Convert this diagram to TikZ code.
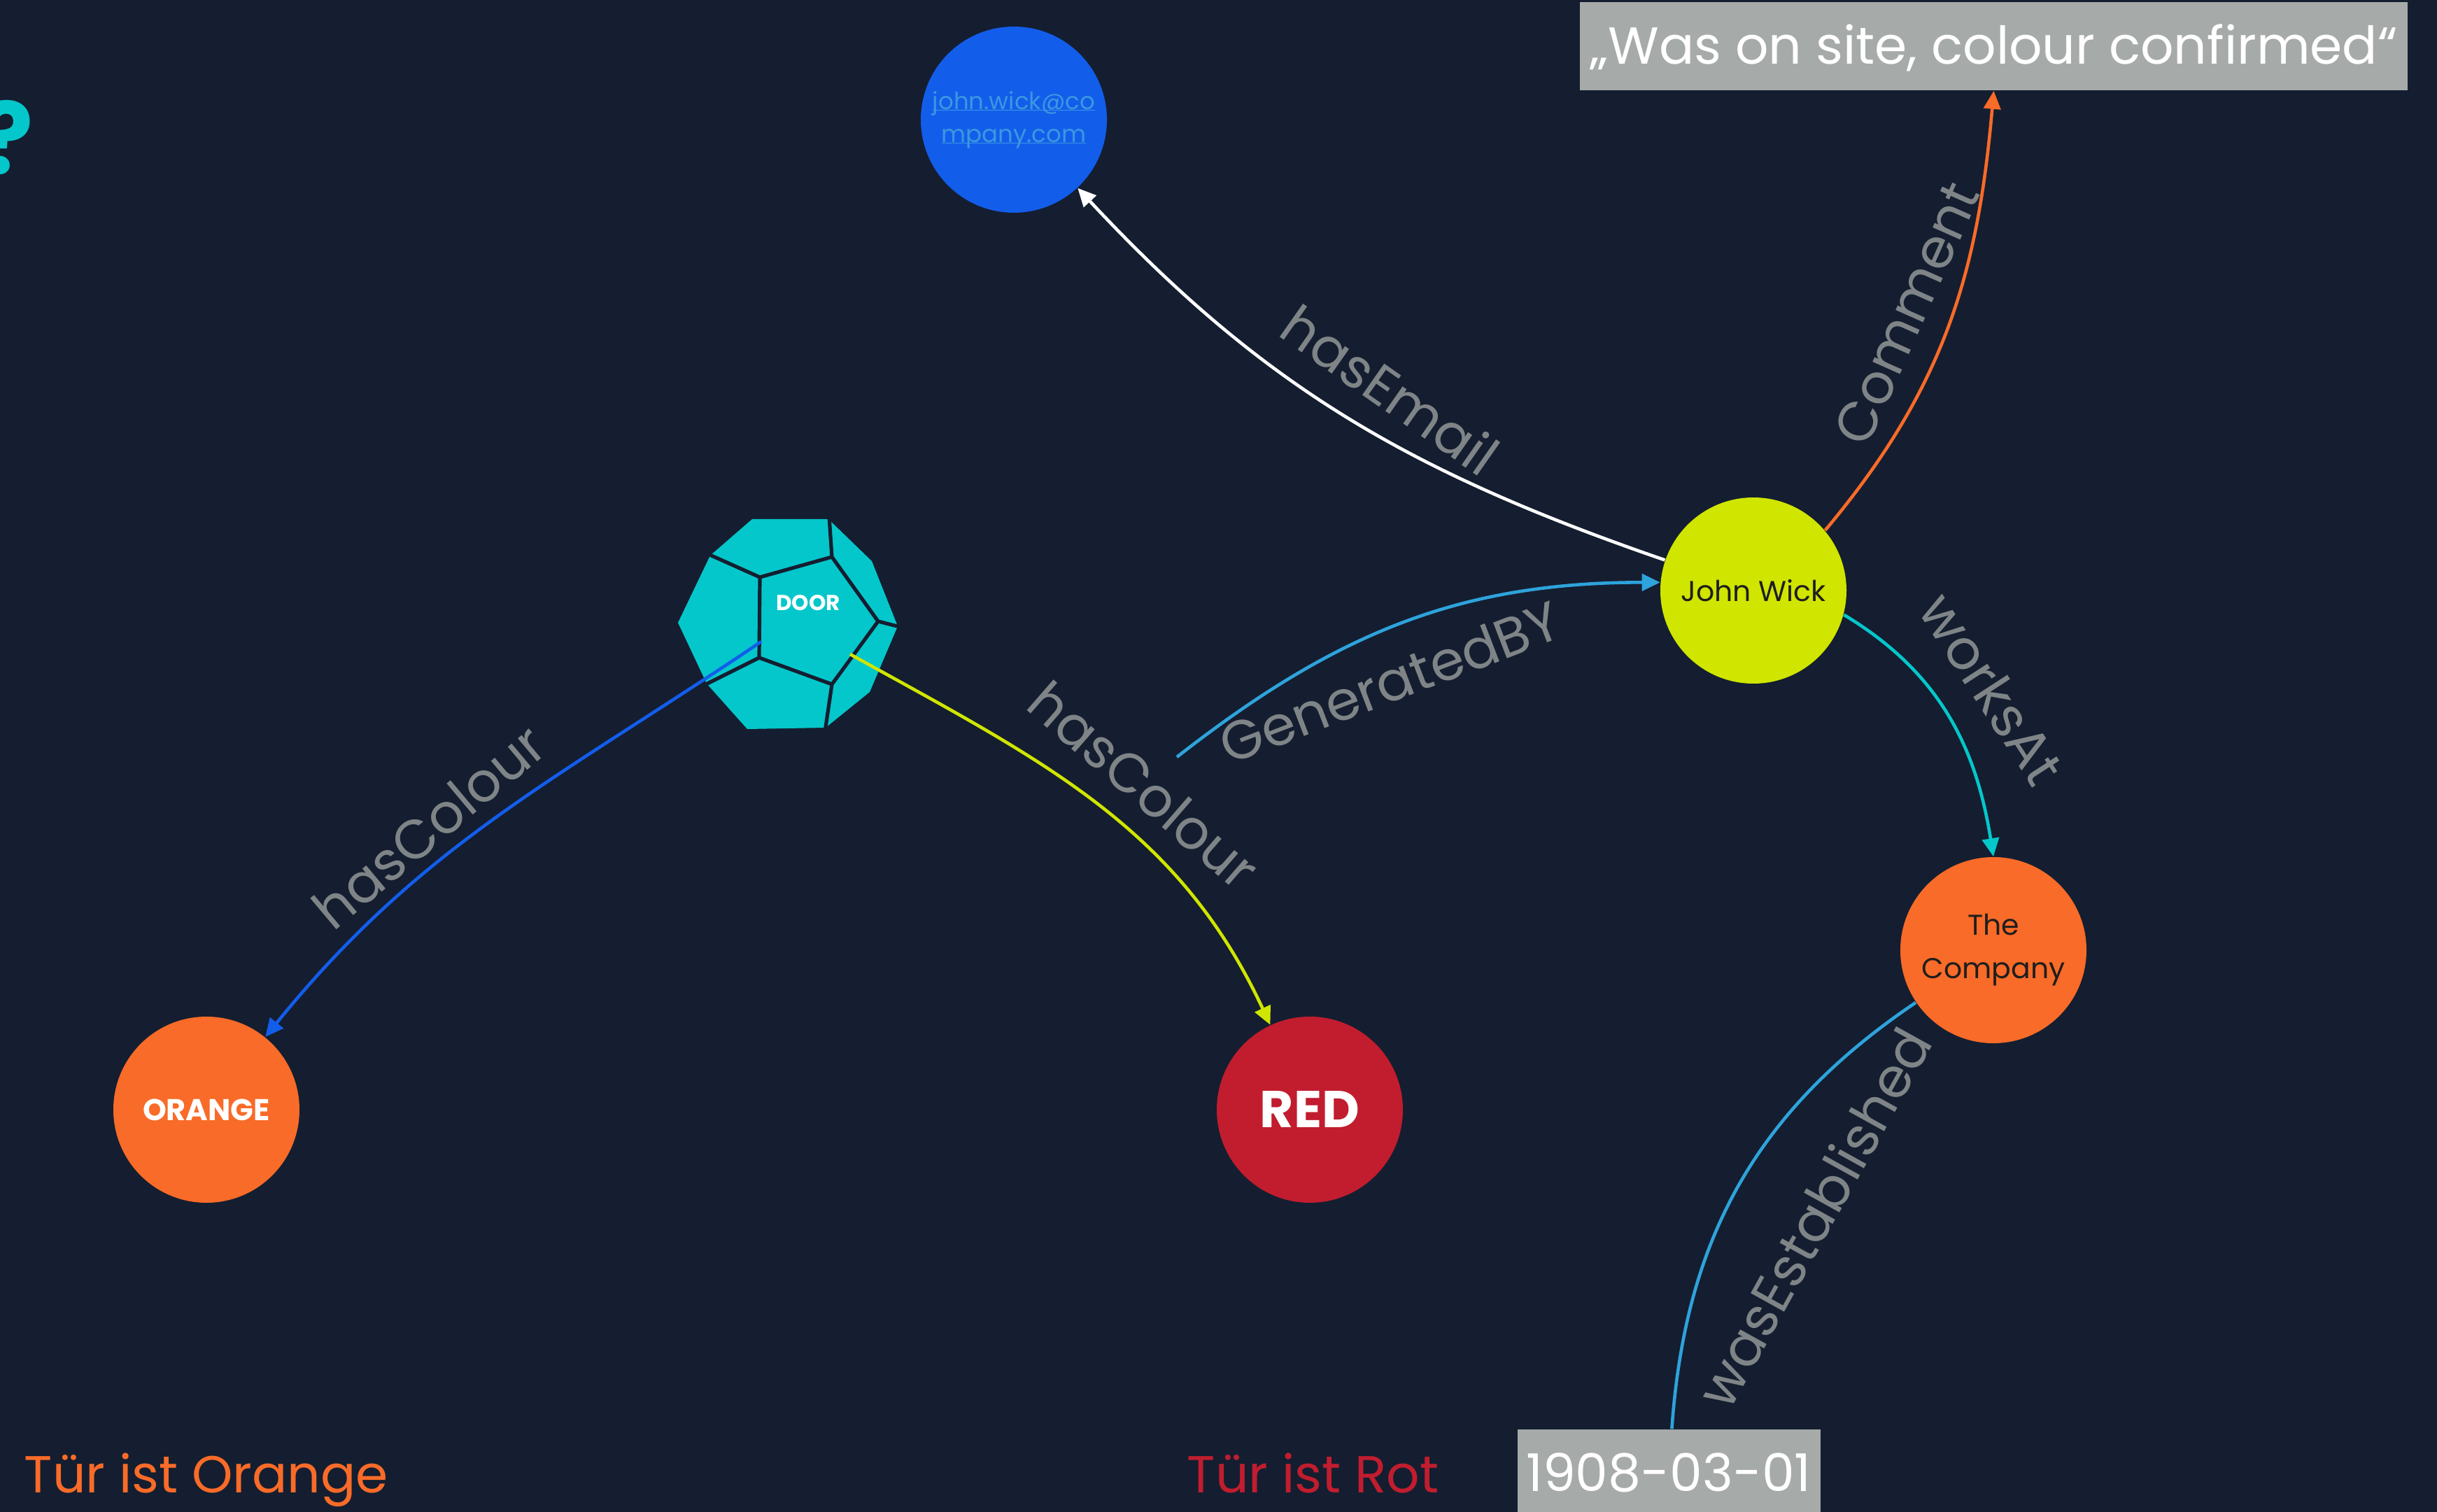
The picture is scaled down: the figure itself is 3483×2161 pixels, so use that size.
\documentclass[tikz,border=0pt]{standalone}
\usepackage{fontspec}
\setmainfont{Poppins}
\usetikzlibrary{arrows.meta}
\definecolor{bg}{HTML}{141E30}
\definecolor{cyanc}{HTML}{04C7CB}
\definecolor{emailblue}{HTML}{135DEB}
\definecolor{emailtext}{HTML}{3A98E0}
\definecolor{lightblue}{HTML}{2EA3DC}
\definecolor{jwyellow}{HTML}{D0E500}
\definecolor{orangec}{HTML}{F96B28}
\definecolor{redc}{HTML}{C11D2E}
\definecolor{boxgrey}{HTML}{A6AAA9}
\definecolor{lblgrey}{HTML}{7F8487}
\definecolor{darktext}{HTML}{1E1E1E}
\newcommand\myul[1]{\setbox0\hbox{#1}\rlap{\rule[-0.6pt]{\wd0}{0.4pt}}\box0}
\begin{document}
\begin{tikzpicture}[x=0.25pt,y=0.25pt,
  circ/.style={circle, minimum size=66.5pt, inner sep=0pt},
  edgeline/.style={line width=1.15pt},
  arr/.style={-{Triangle[length=6.5pt,width=6pt]}},
  lbl/.style={text=lblgrey, inner sep=0pt, font=\fontsize{19.6}{23}\selectfont},
  bigtxt/.style={font=\fontsize{18.6}{22}\selectfont},
  greybox/.style={fill=boxgrey, inner sep=0pt, text=white, bigtxt, text height=13pt, text depth=0pt}]
\fill[bg] (0,0) rectangle (3483,-2161);
\useasboundingbox (0,0) rectangle (3483,-2161);

% question mark
\node[anchor=base east, inner sep=0pt, text=cyanc, font=\bfseries\fontsize{35.5}{40}\selectfont] (qmark) at (49,-249) {?};

% door (dodecahedron)
\fill[cyanc] (1075,-742) -- (1184,-742) -- (1246,-802) -- (1283,-895) -- (1243,-989) -- (1180,-1040) -- (1068,-1042) -- (1010,-977) -- (969,-890) -- (1015,-794) -- cycle;
\draw[bg, line width=1.3pt, line join=miter]
  (1086,-825) -- (1189,-796) -- (1255,-888) -- (1189,-978) -- (1085,-940) -- cycle
  (1086,-825) -- (1010,-791)
  (1189,-796) -- (1185,-738)
  (1255,-888) -- (1290,-897)
  (1189,-978) -- (1179,-1046)
  (1085,-940) -- (1005,-980);
\node[text=white, inner sep=0pt, font=\bfseries\fontsize{7.75}{9}\selectfont] (door) at (1155,-862) {DOOR};
\coordinate (doorA) at (1088,-917);
\coordinate (doorB) at (1215,-935);
\coordinate (genStart) at (1682,-1082);

% nodes
\node[circ, fill=emailblue, text=emailtext, align=center, font=\fontsize{8.5}{11.75}\selectfont] (email) at (1449,-171) {\myul{john.wick@co}\\\myul{mpany.com}};
\node[circ, fill=jwyellow, text=darktext, font=\fontsize{10.25}{12}\selectfont] (jw) at (2506,-844) {John Wick};
\node[circ, fill=orangec, text=darktext, align=center, font=\fontsize{10.25}{15.5}\selectfont] (company) at (2849,-1358) {\raisebox{-1pt}{The}\\\raisebox{-1pt}{Company}};
\node[circ, fill=orangec, text=white, font=\bfseries\fontsize{10.75}{13}\selectfont] (orangen) at (295,-1586) {ORANGE};
\node[circ, fill=redc, text=white, font=\bfseries\fontsize{18.5}{22}\selectfont] (red) at (1872,-1586) {RED};
\node[greybox, minimum width=295.75pt, minimum height=31.5pt] (cbox) at (2849.5,-66) {„Was on site, colour confirmed“};
\node[greybox, minimum width=108.25pt, minimum height=31pt] (date) at (2385,-2105) {1908-03-01};

% bottom texts
\node[anchor=base west, inner sep=0pt, text=orangec, bigtxt] (t1) at (34,-2133) {Tür ist Orange};
\node[anchor=base west, inner sep=0pt, text=redc, bigtxt] (t2) at (1696,-2133) {Tür ist Rot};

% edges
\draw[edgeline, white, arr] (jw) to[out=161, in=-47] (email);
\draw[edgeline, lightblue, arr] (genStart) to[out=38, in=180] (jw.175);
\draw[edgeline, orangec, arr] (jw.40) to[out=50, in=265] (cbox.south);
\draw[edgeline, cyanc, arr] (jw.-15) to[out=-31, in=99] (company.90);
\draw[edgeline, lightblue] (company) to[out=214, in=86] (date);
\draw[edgeline, emailblue, arr] (doorA) to[out=214, in=51] (orangen);
\draw[edgeline, jwyellow, arr] (doorB) to[out=-29, in=115] (red);

% labels
\node[lbl, rotate=-35] (lEmail) at (1987,-557) {hasEmail};
\node[lbl, rotate=21] (lGen) at (1986,-975) {GeneratedBY};
\node[lbl, rotate=40] (lCol1) at (613,-1181) {hasColour};
\node[lbl, rotate=-41] (lCol2) at (1635,-1122) {hasColour};
\node[lbl, rotate=66] (lCom) at (2725,-448) {Comment};
\node[lbl, rotate=-57] (lWorks) at (2847,-984) {worksAt};
\node[lbl, rotate=61] (lEst) at (2592,-1740) {wasEstablished};
\end{tikzpicture}
\end{document}
